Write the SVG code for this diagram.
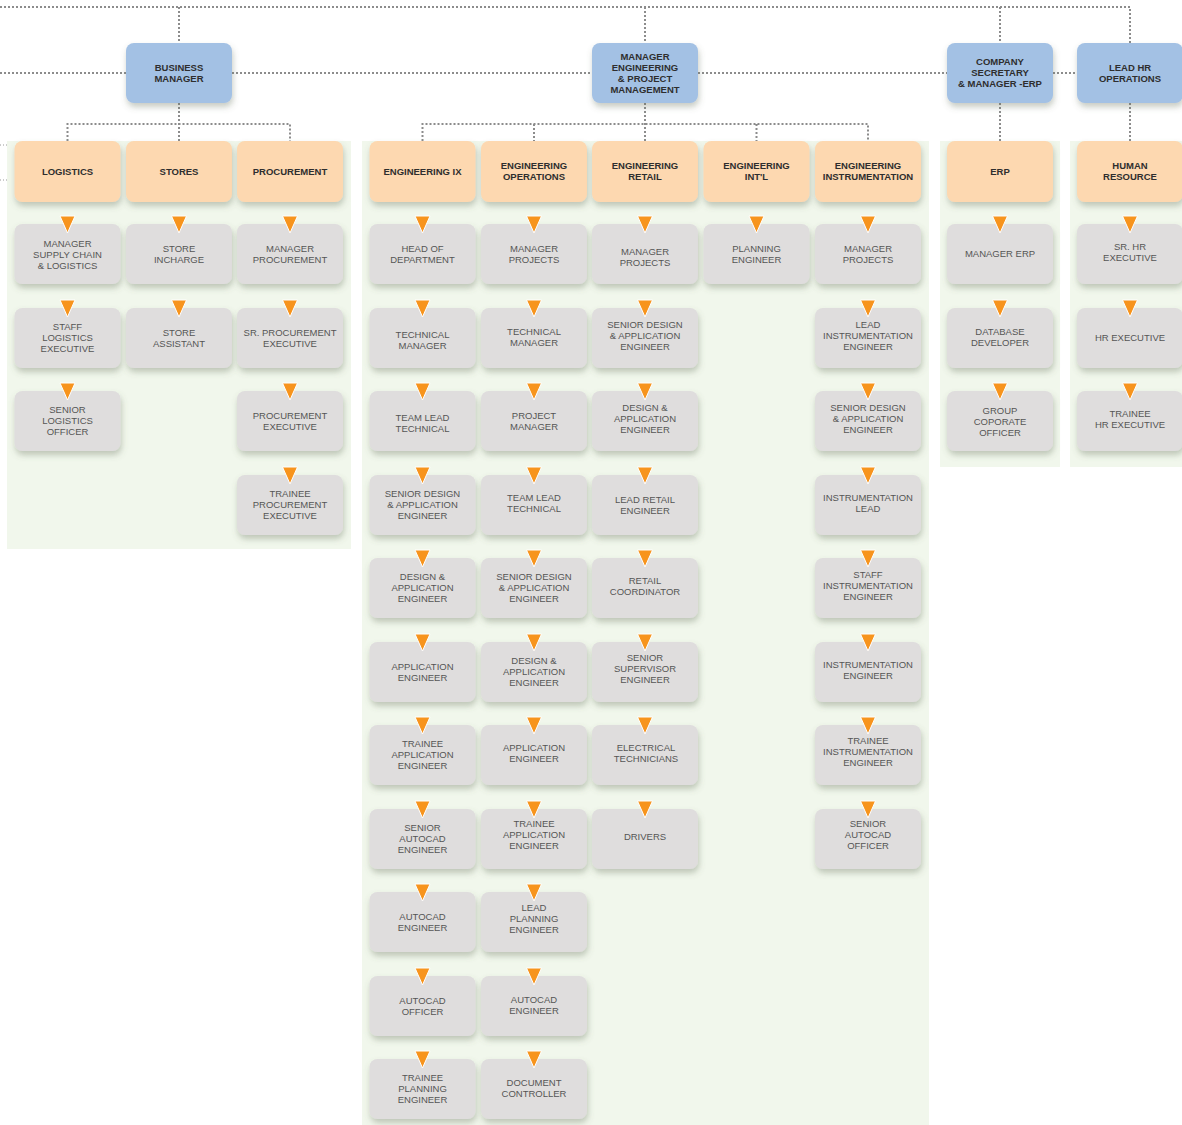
<svg xmlns="http://www.w3.org/2000/svg" xmlns:xlink="http://www.w3.org/1999/xlink" width="1182" height="1125" viewBox="0 0 1182 1125">
<style>
.panel{fill:#f1f7ec}
.bl{fill:#a3c1e4;filter:url(#sh)}
.dp{fill:#fdd8b0;filter:url(#sh)}
.gn{fill:#dfdddd;filter:url(#sh)}
.tb{font-family:"Liberation Sans",Arial,sans-serif;font-size:9.5px;font-weight:bold;fill:#2e2e2e;text-anchor:middle}
.t{font-family:"Liberation Sans",Arial,sans-serif;font-size:9.5px;fill:#555;text-anchor:middle}
.dot{fill:none;stroke:#8c8c8c;stroke-width:2;stroke-dasharray:2 2}
.stub{fill:none;stroke:#9a9a9a;stroke-width:1;stroke-dasharray:1 2}
</style>
<defs>
<filter id="sh" x="-20%" y="-20%" width="140%" height="150%">
<feDropShadow dx="1" dy="4" stdDeviation="3" flood-color="#5f6b55" flood-opacity="0.35"/>
</filter>
<path id="arr" d="M-7.5 -8 H7.5 L0 9 Z" fill="#f7941d" stroke="#fff" stroke-width="1"/>
</defs>
<rect width="1182" height="1125" fill="#fff"/>
<g id="panels">
<rect class="panel" x="7" y="141" width="344" height="408"/>
<rect class="panel" x="362" y="141" width="567" height="984"/>
<rect class="panel" x="940" y="141" width="120" height="326"/>
<rect class="panel" x="1070" y="141" width="112" height="326"/>
</g>
<g id="connectors">
<path class="dot" d="M0 7 H1130 V43 M179 7 V43 M645 7 V43 M1000 7 V43"/>
<path class="dot" d="M0 73 H126 M232 73 H592 M698 73 H947 M1053 73 H1077"/>
<path class="dot" d="M179 103 V141 M67.5 141 V124 H290 V141"/>
<path class="dot" d="M645 103 V141 M422.5 141 V124 H868 V141 M534 124 V141 M756.5 124 V141"/>
<path class="dot" d="M1000 103 V141 M1130 103 V141"/>
<path class="stub" d="M0 145 H7 M0 180 H7"/>
</g>
<g id="managers">
<g id="business-manager"><rect class="bl" x="126" y="43" width="106" height="60" rx="8"/><text class="tb" x="179" y="70.9">BUSINESS<tspan x="179" dy="11">MANAGER</tspan></text></g>
<g id="manager-engineering"><rect class="bl" x="592" y="43" width="106" height="60" rx="8"/><text class="tb" x="645" y="59.9">MANAGER<tspan x="645" dy="11">ENGINEERING</tspan><tspan x="645" dy="11">&amp; PROJECT</tspan><tspan x="645" dy="11">MANAGEMENT</tspan></text></g>
<g id="company-secretary"><rect class="bl" x="947" y="43" width="106" height="60" rx="8"/><text class="tb" x="1000" y="65.4">COMPANY<tspan x="1000" dy="11">SECRETARY</tspan><tspan x="1000" dy="11">&amp; MANAGER -ERP</tspan></text></g>
<g id="lead-hr"><rect class="bl" x="1077" y="43" width="106" height="60" rx="8"/><text class="tb" x="1130" y="70.9">LEAD HR<tspan x="1130" dy="11">OPERATIONS</tspan></text></g>
</g>
<g id="departments">
<g id="logistics"><rect class="dp" x="14.5" y="141" width="106" height="61" rx="8"/><text class="tb" x="67.5" y="174.9">LOGISTICS</text></g>
<g id="stores"><rect class="dp" x="126" y="141" width="106" height="61" rx="8"/><text class="tb" x="179" y="174.9">STORES</text></g>
<g id="procurement"><rect class="dp" x="237" y="141" width="106" height="61" rx="8"/><text class="tb" x="290" y="174.9">PROCUREMENT</text></g>
<g id="eng-ix"><rect class="dp" x="369.5" y="141" width="106" height="61" rx="8"/><text class="tb" x="422.5" y="174.9">ENGINEERING IX</text></g>
<g id="eng-ops"><rect class="dp" x="481" y="141" width="106" height="61" rx="8"/><text class="tb" x="534" y="169.4">ENGINEERING<tspan x="534" dy="11">OPERATIONS</tspan></text></g>
<g id="eng-retail"><rect class="dp" x="592" y="141" width="106" height="61" rx="8"/><text class="tb" x="645" y="169.4">ENGINEERING<tspan x="645" dy="11">RETAIL</tspan></text></g>
<g id="eng-intl"><rect class="dp" x="703.5" y="141" width="106" height="61" rx="8"/><text class="tb" x="756.5" y="169.4">ENGINEERING<tspan x="756.5" dy="11">INT'L</tspan></text></g>
<g id="eng-instr"><rect class="dp" x="815" y="141" width="106" height="61" rx="8"/><text class="tb" x="868" y="169.4">ENGINEERING<tspan x="868" dy="11">INSTRUMENTATION</tspan></text></g>
<g id="erp"><rect class="dp" x="947" y="141" width="106" height="61" rx="8"/><text class="tb" x="1000" y="174.9">ERP</text></g>
<g id="hr"><rect class="dp" x="1077" y="141" width="106" height="61" rx="8"/><text class="tb" x="1130" y="169.4">HUMAN<tspan x="1130" dy="11">RESOURCE</tspan></text></g>
</g>
<g id="roles">
<!-- Logistics -->
<g id="log-1"><rect class="gn" x="14.5" y="224" width="106" height="60" rx="8"/><text class="t" x="67.5" y="247.4">MANAGER<tspan x="67.5" dy="11">SUPPLY CHAIN</tspan><tspan x="67.5" dy="11">&amp; LOGISTICS</tspan></text></g>
<g id="log-2"><rect class="gn" x="14.5" y="308" width="106" height="60" rx="8"/><text class="t" x="67.5" y="330.4">STAFF<tspan x="67.5" dy="11">LOGISTICS</tspan><tspan x="67.5" dy="11">EXECUTIVE</tspan></text></g>
<g id="log-3"><rect class="gn" x="14.5" y="391" width="106" height="60" rx="8"/><text class="t" x="67.5" y="413.4">SENIOR<tspan x="67.5" dy="11">LOGISTICS</tspan><tspan x="67.5" dy="11">OFFICER</tspan></text></g>
<!-- Stores -->
<g id="sto-1"><rect class="gn" x="126" y="224" width="106" height="60" rx="8"/><text class="t" x="179" y="251.9">STORE<tspan x="179" dy="11">INCHARGE</tspan></text></g>
<g id="sto-2"><rect class="gn" x="126" y="308" width="106" height="60" rx="8"/><text class="t" x="179" y="335.9">STORE<tspan x="179" dy="11">ASSISTANT</tspan></text></g>
<!-- Procurement -->
<g id="pro-1"><rect class="gn" x="237" y="224" width="106" height="60" rx="8"/><text class="t" x="290" y="251.9">MANAGER<tspan x="290" dy="11">PROCUREMENT</tspan></text></g>
<g id="pro-2"><rect class="gn" x="237" y="308" width="106" height="60" rx="8"/><text class="t" x="290" y="335.9">SR. PROCUREMENT<tspan x="290" dy="11">EXECUTIVE</tspan></text></g>
<g id="pro-3"><rect class="gn" x="237" y="391" width="106" height="60" rx="8"/><text class="t" x="290" y="418.9">PROCUREMENT<tspan x="290" dy="11">EXECUTIVE</tspan></text></g>
<g id="pro-4"><rect class="gn" x="237" y="475" width="106" height="60" rx="8"/><text class="t" x="290" y="497.4">TRAINEE<tspan x="290" dy="11">PROCUREMENT</tspan><tspan x="290" dy="11">EXECUTIVE</tspan></text></g>
<!-- Engineering IX -->
<g id="ix-1"><rect class="gn" x="369.5" y="224" width="106" height="60" rx="8"/><text class="t" x="422.5" y="251.9">HEAD OF<tspan x="422.5" dy="11">DEPARTMENT</tspan></text></g>
<g id="ix-2"><rect class="gn" x="369.5" y="308" width="106" height="60" rx="8"/><text class="t" x="422.5" y="337.9">TECHNICAL<tspan x="422.5" dy="11">MANAGER</tspan></text></g>
<g id="ix-3"><rect class="gn" x="369.5" y="391" width="106" height="60" rx="8"/><text class="t" x="422.5" y="420.9">TEAM LEAD<tspan x="422.5" dy="11">TECHNICAL</tspan></text></g>
<g id="ix-4"><rect class="gn" x="369.5" y="475" width="106" height="60" rx="8"/><text class="t" x="422.5" y="497.4">SENIOR DESIGN<tspan x="422.5" dy="11">&amp; APPLICATION</tspan><tspan x="422.5" dy="11">ENGINEER</tspan></text></g>
<g id="ix-5"><rect class="gn" x="369.5" y="558" width="106" height="60" rx="8"/><text class="t" x="422.5" y="580.4">DESIGN &amp;<tspan x="422.5" dy="11">APPLICATION</tspan><tspan x="422.5" dy="11">ENGINEER</tspan></text></g>
<g id="ix-6"><rect class="gn" x="369.5" y="642" width="106" height="60" rx="8"/><text class="t" x="422.5" y="669.9">APPLICATION<tspan x="422.5" dy="11">ENGINEER</tspan></text></g>
<g id="ix-7"><rect class="gn" x="369.5" y="725" width="106" height="60" rx="8"/><text class="t" x="422.5" y="747.4">TRAINEE<tspan x="422.5" dy="11">APPLICATION</tspan><tspan x="422.5" dy="11">ENGINEER</tspan></text></g>
<g id="ix-8"><rect class="gn" x="369.5" y="809" width="106" height="60" rx="8"/><text class="t" x="422.5" y="831.4">SENIOR<tspan x="422.5" dy="11">AUTOCAD</tspan><tspan x="422.5" dy="11">ENGINEER</tspan></text></g>
<g id="ix-9"><rect class="gn" x="369.5" y="892" width="106" height="60" rx="8"/><text class="t" x="422.5" y="919.9">AUTOCAD<tspan x="422.5" dy="11">ENGINEER</tspan></text></g>
<g id="ix-10"><rect class="gn" x="369.5" y="976" width="106" height="60" rx="8"/><text class="t" x="422.5" y="1003.9">AUTOCAD<tspan x="422.5" dy="11">OFFICER</tspan></text></g>
<g id="ix-11"><rect class="gn" x="369.5" y="1059" width="106" height="60" rx="8"/><text class="t" x="422.5" y="1081.4">TRAINEE<tspan x="422.5" dy="11">PLANNING</tspan><tspan x="422.5" dy="11">ENGINEER</tspan></text></g>
<!-- Engineering Operations -->
<g id="op-1"><rect class="gn" x="481" y="224" width="106" height="60" rx="8"/><text class="t" x="534" y="251.9">MANAGER<tspan x="534" dy="11">PROJECTS</tspan></text></g>
<g id="op-2"><rect class="gn" x="481" y="308" width="106" height="60" rx="8"/><text class="t" x="534" y="334.9">TECHNICAL<tspan x="534" dy="11">MANAGER</tspan></text></g>
<g id="op-3"><rect class="gn" x="481" y="391" width="106" height="60" rx="8"/><text class="t" x="534" y="418.9">PROJECT<tspan x="534" dy="11">MANAGER</tspan></text></g>
<g id="op-4"><rect class="gn" x="481" y="475" width="106" height="60" rx="8"/><text class="t" x="534" y="500.9">TEAM LEAD<tspan x="534" dy="11">TECHNICAL</tspan></text></g>
<g id="op-5"><rect class="gn" x="481" y="558" width="106" height="60" rx="8"/><text class="t" x="534" y="580.4">SENIOR DESIGN<tspan x="534" dy="11">&amp; APPLICATION</tspan><tspan x="534" dy="11">ENGINEER</tspan></text></g>
<g id="op-6"><rect class="gn" x="481" y="642" width="106" height="60" rx="8"/><text class="t" x="534" y="664.4">DESIGN &amp;<tspan x="534" dy="11">APPLICATION</tspan><tspan x="534" dy="11">ENGINEER</tspan></text></g>
<g id="op-7"><rect class="gn" x="481" y="725" width="106" height="60" rx="8"/><text class="t" x="534" y="750.9">APPLICATION<tspan x="534" dy="11">ENGINEER</tspan></text></g>
<g id="op-8"><rect class="gn" x="481" y="809" width="106" height="60" rx="8"/><text class="t" x="534" y="827.4">TRAINEE<tspan x="534" dy="11">APPLICATION</tspan><tspan x="534" dy="11">ENGINEER</tspan></text></g>
<g id="op-9"><rect class="gn" x="481" y="892" width="106" height="60" rx="8"/><text class="t" x="534" y="911.4">LEAD<tspan x="534" dy="11">PLANNING</tspan><tspan x="534" dy="11">ENGINEER</tspan></text></g>
<g id="op-10"><rect class="gn" x="481" y="976" width="106" height="60" rx="8"/><text class="t" x="534" y="1002.9">AUTOCAD<tspan x="534" dy="11">ENGINEER</tspan></text></g>
<g id="op-11"><rect class="gn" x="481" y="1059" width="106" height="60" rx="8"/><text class="t" x="534" y="1085.9">DOCUMENT<tspan x="534" dy="11">CONTROLLER</tspan></text></g>
<!-- Engineering Retail -->
<g id="rt-1"><rect class="gn" x="592" y="224" width="106" height="60" rx="8"/><text class="t" x="645" y="254.9">MANAGER<tspan x="645" dy="11">PROJECTS</tspan></text></g>
<g id="rt-2"><rect class="gn" x="592" y="308" width="106" height="60" rx="8"/><text class="t" x="645" y="328.4">SENIOR DESIGN<tspan x="645" dy="11">&amp; APPLICATION</tspan><tspan x="645" dy="11">ENGINEER</tspan></text></g>
<g id="rt-3"><rect class="gn" x="592" y="391" width="106" height="60" rx="8"/><text class="t" x="645" y="411.4">DESIGN &amp;<tspan x="645" dy="11">APPLICATION</tspan><tspan x="645" dy="11">ENGINEER</tspan></text></g>
<g id="rt-4"><rect class="gn" x="592" y="475" width="106" height="60" rx="8"/><text class="t" x="645" y="502.9">LEAD RETAIL<tspan x="645" dy="11">ENGINEER</tspan></text></g>
<g id="rt-5"><rect class="gn" x="592" y="558" width="106" height="60" rx="8"/><text class="t" x="645" y="583.9">RETAIL<tspan x="645" dy="11">COORDINATOR</tspan></text></g>
<g id="rt-6"><rect class="gn" x="592" y="642" width="106" height="60" rx="8"/><text class="t" x="645" y="661.4">SENIOR<tspan x="645" dy="11">SUPERVISOR</tspan><tspan x="645" dy="11">ENGINEER</tspan></text></g>
<g id="rt-7"><rect class="gn" x="592" y="725" width="106" height="60" rx="8"/><text class="t" x="646" y="750.9">ELECTRICAL<tspan x="646" dy="11">TECHNICIANS</tspan></text></g>
<g id="rt-8"><rect class="gn" x="592" y="809" width="106" height="60" rx="8"/><text class="t" x="645" y="839.9">DRIVERS</text></g>
<!-- Engineering Int'l -->
<g id="in-1"><rect class="gn" x="703.5" y="224" width="106" height="60" rx="8"/><text class="t" x="756.5" y="251.9">PLANNING<tspan x="756.5" dy="11">ENGINEER</tspan></text></g>
<!-- Engineering Instrumentation -->
<g id="is-1"><rect class="gn" x="815" y="224" width="106" height="60" rx="8"/><text class="t" x="868" y="251.9">MANAGER<tspan x="868" dy="11">PROJECTS</tspan></text></g>
<g id="is-2"><rect class="gn" x="815" y="308" width="106" height="60" rx="8"/><text class="t" x="868" y="328.4">LEAD<tspan x="868" dy="11">INSTRUMENTATION</tspan><tspan x="868" dy="11">ENGINEER</tspan></text></g>
<g id="is-3"><rect class="gn" x="815" y="391" width="106" height="60" rx="8"/><text class="t" x="868" y="411.4">SENIOR DESIGN<tspan x="868" dy="11">&amp; APPLICATION</tspan><tspan x="868" dy="11">ENGINEER</tspan></text></g>
<g id="is-4"><rect class="gn" x="815" y="475" width="106" height="60" rx="8"/><text class="t" x="868" y="500.9">INSTRUMENTATION<tspan x="868" dy="11">LEAD</tspan></text></g>
<g id="is-5"><rect class="gn" x="815" y="558" width="106" height="60" rx="8"/><text class="t" x="868" y="578.4">STAFF<tspan x="868" dy="11">INSTRUMENTATION</tspan><tspan x="868" dy="11">ENGINEER</tspan></text></g>
<g id="is-6"><rect class="gn" x="815" y="642" width="106" height="60" rx="8"/><text class="t" x="868" y="667.9">INSTRUMENTATION<tspan x="868" dy="11">ENGINEER</tspan></text></g>
<g id="is-7"><rect class="gn" x="815" y="725" width="106" height="60" rx="8"/><text class="t" x="868" y="744.4">TRAINEE<tspan x="868" dy="11">INSTRUMENTATION</tspan><tspan x="868" dy="11">ENGINEER</tspan></text></g>
<g id="is-8"><rect class="gn" x="815" y="809" width="106" height="60" rx="8"/><text class="t" x="868" y="827.4">SENIOR<tspan x="868" dy="11">AUTOCAD</tspan><tspan x="868" dy="11">OFFICER</tspan></text></g>
<!-- ERP -->
<g id="erp-1"><rect class="gn" x="947" y="224" width="106" height="60" rx="8"/><text class="t" x="1000" y="257.4">MANAGER ERP</text></g>
<g id="erp-2"><rect class="gn" x="947" y="308" width="106" height="60" rx="8"/><text class="t" x="1000" y="334.9">DATABASE<tspan x="1000" dy="11">DEVELOPER</tspan></text></g>
<g id="erp-3"><rect class="gn" x="947" y="391" width="106" height="60" rx="8"/><text class="t" x="1000" y="414.4">GROUP<tspan x="1000" dy="11">COPORATE</tspan><tspan x="1000" dy="11">OFFICER</tspan></text></g>
<!-- HR -->
<g id="hr-1"><rect class="gn" x="1077" y="224" width="106" height="60" rx="8"/><text class="t" x="1130" y="250.4">SR. HR<tspan x="1130" dy="11">EXECUTIVE</tspan></text></g>
<g id="hr-2"><rect class="gn" x="1077" y="308" width="106" height="60" rx="8"/><text class="t" x="1130" y="340.9">HR EXECUTIVE</text></g>
<g id="hr-3"><rect class="gn" x="1077" y="391" width="106" height="60" rx="8"/><text class="t" x="1130" y="417.4">TRAINEE<tspan x="1130" dy="11">HR EXECUTIVE</tspan></text></g>
</g>
<g id="arrows">
<use href="#arr" x="67.5" y="224"/><use href="#arr" x="67.5" y="308"/><use href="#arr" x="67.5" y="391"/>
<use href="#arr" x="179" y="224"/><use href="#arr" x="179" y="308"/>
<use href="#arr" x="290" y="224"/><use href="#arr" x="290" y="308"/><use href="#arr" x="290" y="391"/><use href="#arr" x="290" y="475"/>
<use href="#arr" x="422.5" y="224"/><use href="#arr" x="422.5" y="308"/><use href="#arr" x="422.5" y="391"/><use href="#arr" x="422.5" y="475"/><use href="#arr" x="422.5" y="558"/><use href="#arr" x="422.5" y="642"/><use href="#arr" x="422.5" y="725"/><use href="#arr" x="422.5" y="809"/><use href="#arr" x="422.5" y="892"/><use href="#arr" x="422.5" y="976"/><use href="#arr" x="422.5" y="1059"/>
<use href="#arr" x="534" y="224"/><use href="#arr" x="534" y="308"/><use href="#arr" x="534" y="391"/><use href="#arr" x="534" y="475"/><use href="#arr" x="534" y="558"/><use href="#arr" x="534" y="642"/><use href="#arr" x="534" y="725"/><use href="#arr" x="534" y="809"/><use href="#arr" x="534" y="892"/><use href="#arr" x="534" y="976"/><use href="#arr" x="534" y="1059"/>
<use href="#arr" x="645" y="224"/><use href="#arr" x="645" y="308"/><use href="#arr" x="645" y="391"/><use href="#arr" x="645" y="475"/><use href="#arr" x="645" y="558"/><use href="#arr" x="645" y="642"/><use href="#arr" x="645" y="725"/><use href="#arr" x="645" y="809"/>
<use href="#arr" x="756.5" y="224"/>
<use href="#arr" x="868" y="224"/><use href="#arr" x="868" y="308"/><use href="#arr" x="868" y="391"/><use href="#arr" x="868" y="475"/><use href="#arr" x="868" y="558"/><use href="#arr" x="868" y="642"/><use href="#arr" x="868" y="725"/><use href="#arr" x="868" y="809"/>
<use href="#arr" x="1000" y="224"/><use href="#arr" x="1000" y="308"/><use href="#arr" x="1000" y="391"/>
<use href="#arr" x="1130" y="224"/><use href="#arr" x="1130" y="308"/><use href="#arr" x="1130" y="391"/>
</g>
</svg>
